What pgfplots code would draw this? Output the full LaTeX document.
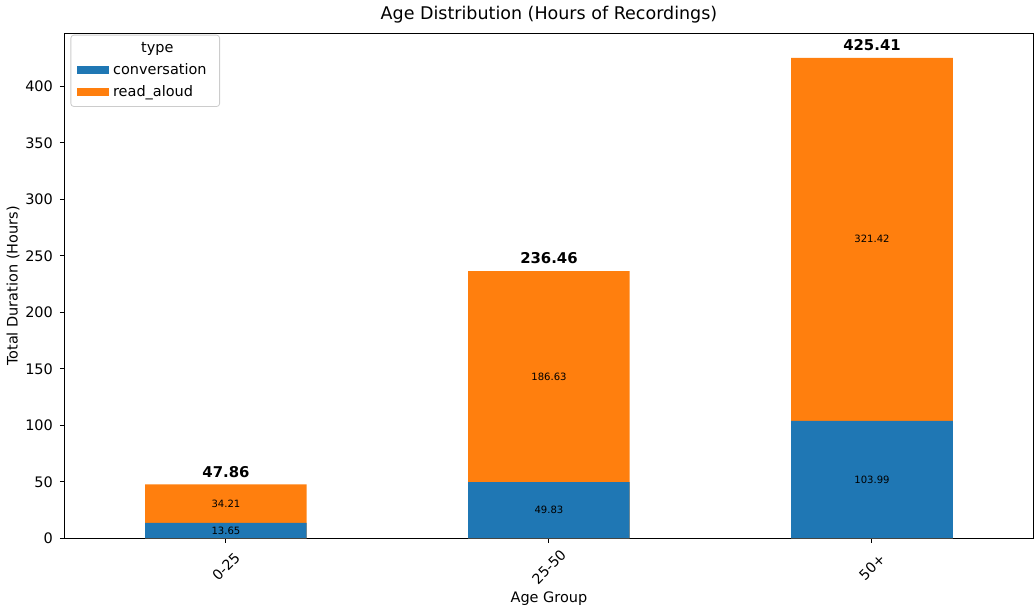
\documentclass[border=0pt]{standalone}
\usepackage{fontspec}
\setmainfont{DejaVu Sans}
\usepackage{pgfplots}
\pgfplotsset{compat=1.18}
\definecolor{tabblue}{HTML}{1F77B4}
\definecolor{taborange}{HTML}{FF7F0E}
\begin{document}
\begin{tikzpicture}
\begin{axis}[
  scale only axis, width=482pt, height=251pt,
  ybar, bar shift=0pt, bar width=0.5,
  xmin=-0.5, xmax=2.5, ymin=0, ymax=446.68,
  xtick={0,1,2}, xticklabels={0-25,25-50,50+},
  ytick={0,50,...,400},
  tick pos=left, tick align=outside, major tick length=2.2pt,
  axis line style={line width=0.5pt},
  every tick/.style={black, line width=0.5pt},
  tick label style={font=\fontsize{7.2}{8}\selectfont},
  /pgf/number format/assume math mode=true,
  x tick label style={anchor=center, yshift=-12pt, rotate=45, font=\fontsize{7}{8}\selectfont},
  title={Age Distribution (Hours of Recordings)},
  every axis title/.style={at={(0.5,1)}, anchor=south, yshift=1.5pt, font=\fontsize{8.7}{10}\selectfont},
  xlabel={Age Group}, ylabel={Total Duration (Hours)},
  every axis x label/.style={at={(axis description cs:0.5,0)}, anchor=center, yshift=-30pt, font=\fontsize{7.2}{8}\selectfont},
  every axis y label/.style={at={(axis description cs:0,0.5)}, anchor=center, xshift=-25.5pt, rotate=90, font=\fontsize{7.2}{8}\selectfont},
  legend style={at={(axis description cs:0,1)}, anchor=north west, xshift=3pt, yshift=-0.5pt,
    draw=black!20, rounded corners=1.5pt, font=\fontsize{7.2}{8.5}\selectfont, cells={anchor=west},
    inner xsep=3pt, inner ysep=1.5pt, row sep=0pt},
  legend image code/.code={\fill[#1, sharp corners] (0pt,-1.8pt) rectangle (16pt,2.2pt);},
]
\addlegendimage{empty legend}
\addlegendentry{\hspace{-4pt}\makebox[52pt]{type}}
\addlegendimage{fill=tabblue, draw=none}
\addlegendentry{conversation}
\addlegendimage{fill=taborange, draw=none}
\addlegendentry{read\_aloud}
% totals (read_aloud on top of conversation), total label above
\addplot[forget plot, fill=taborange, draw=none, nodes near coords,
  point meta=explicit symbolic,
  every node near coord/.style={font=\fontsize{7.4}{8}\selectfont\bfseries, black, anchor=south}]
  coordinates {(0,47.86)[47.86] (1,236.46)[236.46] (2,425.41)[425.41]};
% conversation
\addplot[forget plot, fill=tabblue, draw=none]
  coordinates {(0,13.65) (1,49.83) (2,103.99)};
% segment labels, centred in each segment
\addplot[forget plot, draw=none, fill=none, nodes near coords,
  point meta=explicit symbolic,
  every node near coord/.style={font=\fontsize{5}{6}\selectfont, black, anchor=center}]
  coordinates {(0,6.825)[13.65] (1,24.915)[49.83] (2,51.995)[103.99]};
\addplot[forget plot, draw=none, fill=none, nodes near coords,
  point meta=explicit symbolic,
  every node near coord/.style={font=\fontsize{5}{6}\selectfont, black, anchor=center}]
  coordinates {(0,30.755)[34.21] (1,143.145)[186.63] (2,264.70)[321.42]};
\end{axis}
\end{tikzpicture}
\end{document}
